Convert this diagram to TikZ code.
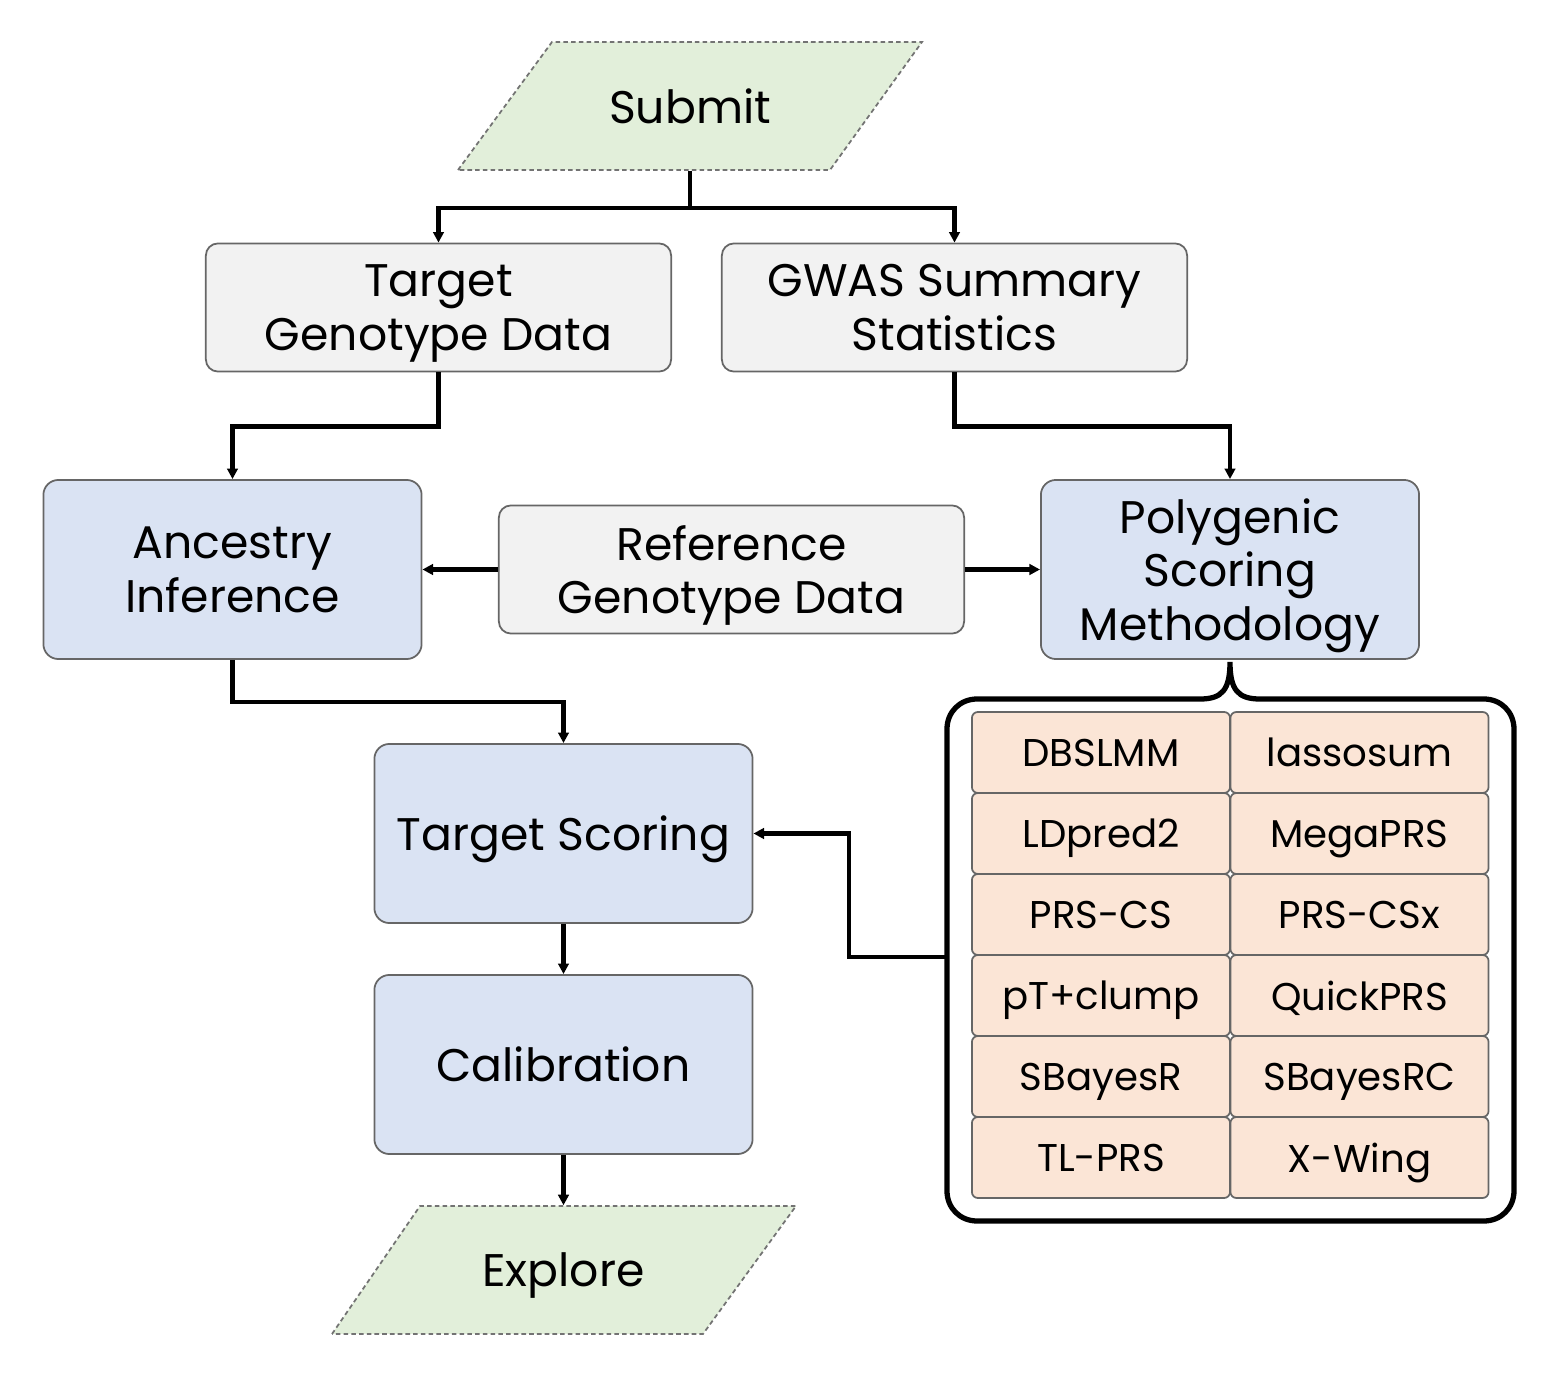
\documentclass[tikz,border=0pt]{standalone}
\usepackage{fontspec}
\setmainfont{Poppins}
\usepackage{tikz}
\usetikzlibrary{arrows.meta}

\definecolor{iogreen}{HTML}{E2EFDA}
\definecolor{datagray}{HTML}{F2F2F2}
\definecolor{stepblue}{HTML}{DAE3F3}
\definecolor{methodpeach}{HTML}{FBE5D6}

\begin{document}
\begin{tikzpicture}[x=0.01cm,y=-0.01cm,
  every node/.style={font=\fontsize{13}{15.3}\selectfont, align=center, text depth=0pt},
  io/.style={draw=black!55, dash pattern=on 1.3pt off 0.9pt, line width=0.5pt, fill=iogreen},
  iotext/.style={minimum width=3.7cm, minimum height=1.28cm, inner sep=0pt},
  databox/.style={draw=black!60, line width=0.5pt, rounded corners=0.12cm,
    fill=datagray, minimum width=4.65cm, minimum height=1.28cm},
  stepbox/.style={draw=black!60, line width=0.5pt, rounded corners=0.15cm,
    fill=stepblue, minimum width=3.78cm, minimum height=1.79cm},
  method/.style={draw=black!60, line width=0.5pt, rounded corners=0.06cm,
    fill=methodpeach, minimum width=2.58cm, minimum height=0.81cm,
    font=\fontsize{11}{13}\selectfont},
  conn/.style={line width=1.2pt, -{Triangle[length=3pt,width=3pt]}}]

\useasboundingbox (0,0) rectangle (1562,1382);

% Input and output
\draw[io] (458,170) -- (552,42) -- (922,42) -- (830,170) -- cycle;
\node[iotext] (submit) at (690,106) {Submit};
\draw[io] (332,1334) -- (420,1206) -- (796,1206) -- (703,1334) -- cycle;
\node[iotext] (explore) at (563.5,1270) {Explore};

% Data sources
\node[databox] (target) at (438.5,307.5) {Target\\Genotype Data};
\node[databox] (gwas) at (954.5,307.5) {GWAS Summary\\Statistics};
\node[databox] (reference) at (731.5,569.5) {Reference\\Genotype Data};

% Processing steps
\node[stepbox] (ancestry) at (232.5,569.5) {Ancestry\\Inference};
\node[stepbox] (polygenic) at (1230,569.5) {Polygenic\\Scoring\\Methodology};
\node[stepbox] (scoring) at (563.5,833.5) {Target Scoring};
\node[stepbox] (calibration) at (563.5,1064.5) {Calibration};

% Methods grouped under a brace
\draw[line width=1.5pt]
  (1230,662) .. controls (1230,690) and (1222,699) .. (1200,699)
  -- (977,699) .. controls (960,699) and (947,712) .. (947,729)
  -- (947,1191) .. controls (947,1208) and (960,1221) .. (977,1221)
  -- (1484,1221) .. controls (1501,1221) and (1514,1208) .. (1514,1191)
  -- (1514,729) .. controls (1514,712) and (1501,699) .. (1484,699)
  -- (1260,699) .. controls (1238,699) and (1230,690) .. (1230,662);
\coordinate (methods) at (947,957);

\foreach \ml/\mr [count=\i] in {DBSLMM/lassosum, LDpred2/MegaPRS,
    PRS-CS/PRS-CSx, pT+clump/QuickPRS, SBayesR/SBayesRC, TL-PRS/X-Wing}{
  \node[method] (m\i a) at (1101,671.5+81*\i) {\ml};
  \node[method] (m\i b) at (1359.5,671.5+81*\i) {\mr};
}

% Connectors
\draw[line width=1.2pt] (submit.south) -- ++(0,37) coordinate (split);
\draw[conn] (split) -| (target.north);
\draw[conn] (split) -| (gwas.north);
\draw[conn] (target.south) -- ++(0,54) -| (ancestry.north);
\draw[conn] (gwas.south) -- ++(0,54) -| (polygenic.north);
\draw[conn] (reference.west) -- (ancestry.east);
\draw[conn] (reference.east) -- (polygenic.west);
\draw[conn] (ancestry.south) -- ++(0,42) -| (scoring.north);
\draw[conn] (methods) -- ++(-98,0) |- (scoring.east);
\draw[conn] (scoring.south) -- (calibration.north);
\draw[conn] (calibration.south) -- (explore.north);

\end{tikzpicture}
\end{document}
